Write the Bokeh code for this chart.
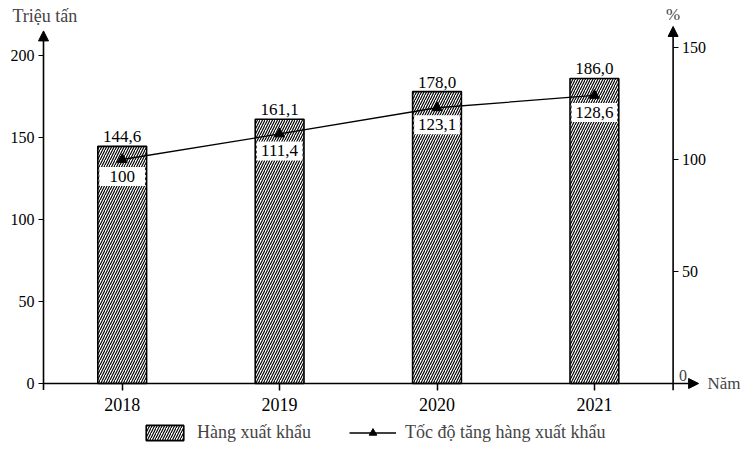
from bokeh.plotting import figure
from bokeh.models import (Range1d, LinearAxis, FixedTicker, ColumnDataSource, LabelSet,
                          Label, Arrow, NormalHead, Legend, LegendItem)
from bokeh.embed import file_html
from bokeh.resources import INLINE

years = ["2018", "2019", "2020", "2021"]
export_goods = [144.6, 161.1, 178.0, 186.0]
growth_rate = [100, 111.4, 123.1, 128.6]
left_ticks = [0, 50, 100, 150, 200]
right_ticks = [0, 50, 100, 150]

FONT = "Liberation Serif"

xs = list(range(len(years)))
src = ColumnDataSource(dict(
    x=xs, bar=export_goods, rate=growth_rate,
    box_y=[r - 7.6 for r in growth_rate],
    bar_lbl=[f"{v:.1f}".replace(".", ",") for v in export_goods],
    rate_lbl=[("%g" % v).replace(".", ",") for v in growth_rate],
))

p = figure(width=750, height=449, output_backend="svg", toolbar_location=None,
           x_range=Range1d(-0.7732, 3.9917), y_range=Range1d(-40.24, 233.54),
           min_border_left=0, min_border_right=0, min_border_top=0, min_border_bottom=0)
p.extra_y_ranges = {"pct": Range1d(-29.46, 170.98)}
p.grid.visible = False
p.outline_line_color = None
p.background_fill_color = "white"

bars = p.vbar(x="x", top="bar", width=0.31, source=src, fill_color="white",
              line_color="black", line_width=1.6, hatch_pattern="/", hatch_scale=5,
              hatch_weight=1.15, hatch_color="black")

# white bands inside bars holding the growth values
p.rect(x="x", y="box_y", width=0.29, height=19, height_units="screen", source=src,
       y_range_name="pct", fill_color="white", line_color=None)

rate_labels = LabelSet(x="x", y="box_y", text="rate_lbl", source=src, y_range_name="pct",
                       text_align="center", text_baseline="middle",
                       text_font=FONT, text_font_size="17px", text_color="black")
p.add_layout(rate_labels)

line = p.line(x="x", y="rate", source=src, y_range_name="pct", line_color="black", line_width=1.3)
pts = p.scatter(x="x", y="rate", source=src, y_range_name="pct", marker="triangle",
                size=10, fill_color="black", line_color="black")

bar_labels = LabelSet(x="x", y="bar", text="bar_lbl", source=src, text_align="center",
                      text_baseline="bottom", y_offset=4, text_font=FONT,
                      text_font_size="17px", text_color="black")
p.add_layout(bar_labels)

# axes (drawn at fixed positions inside the frame)
p.xaxis.fixed_location = 0
p.xaxis.ticker = FixedTicker(ticks=xs)
p.xaxis.major_label_overrides = {i: y for i, y in enumerate(years)}
p.xaxis.major_label_text_font = FONT
p.xaxis.major_label_text_font_size = "18px"
p.xaxis.major_label_text_color = "black"
p.xaxis.major_label_standoff = 7
p.xaxis.minor_tick_line_color = None
p.xaxis.major_tick_in = 0
p.xaxis.major_tick_out = 7
p.xaxis.major_tick_line_width = 1.5
p.xaxis.axis_line_color = None

p.yaxis.fixed_location = -0.5
p.yaxis.ticker = FixedTicker(ticks=left_ticks)
p.yaxis.major_label_text_font = FONT
p.yaxis.major_label_text_font_size = "16px"
p.yaxis.major_label_text_color = "black"
p.yaxis.minor_tick_line_color = None
p.yaxis.major_tick_in = 0
p.yaxis.major_tick_out = 5
p.yaxis.major_label_standoff = 4
p.yaxis.axis_line_color = None

raxis = LinearAxis(y_range_name="pct", ticker=FixedTicker(ticks=right_ticks), fixed_location=3.5)
raxis.major_label_overrides = {0: ""}
raxis.major_label_text_font = FONT
raxis.major_label_text_font_size = "16px"
raxis.major_label_text_color = "black"
raxis.minor_tick_line_color = None
raxis.major_tick_in = 0
raxis.major_tick_out = 5
raxis.major_label_standoff = 4
raxis.axis_line_color = None
p.add_layout(raxis, "right")

head = dict(size=10, fill_color="black", line_color="black")
p.add_layout(Arrow(end=NormalHead(**head), x_start=-0.5, y_start=-4, x_end=-0.5, y_end=215,
                   line_width=1.6))
p.add_layout(Arrow(end=NormalHead(**head), x_start=3.5, y_start=-3, x_end=3.5, y_end=159.4,
                   y_range_name="pct", line_width=1.6))
p.add_layout(Arrow(end=NormalHead(**head), x_start=-0.5, y_start=0, x_end=3.662, y_end=0,
                   line_width=1.6))

p.add_layout(Label(x=-0.697, y=223.8, text="Triệu tấn", text_font=FONT, text_font_size="18px",
                   text_baseline="middle", text_align="left"))
p.add_layout(Label(x=3.5, y=225, text="%", text_font=FONT, text_font_size="17px",
                   text_baseline="middle", text_align="center"))
p.add_layout(Label(x=3.5, y=0, x_offset=6, y_offset=3, text="0", text_font=FONT,
                   text_font_size="16px", text_baseline="bottom", text_align="left",
                   y_range_name="pct"))
p.add_layout(Label(x=3.718, y=0, text="Năm", text_font=FONT, text_font_size="17px",
                   text_baseline="middle", text_align="left"))

legend = Legend(items=[LegendItem(label="Hàng xuất khẩu", renderers=[bars]),
                       LegendItem(label="Tốc độ tăng hàng xuất khẩu", renderers=[line, pts])],
                orientation="horizontal", location=(141, 6),
                label_text_font=FONT, label_text_font_size="18px", label_standoff=9,
                glyph_width=47, glyph_height=19, spacing=38, padding=2, margin=0,
                border_line_color=None, background_fill_alpha=0)
p.add_layout(legend)

open("out.html", "w").write(file_html(p, INLINE))
